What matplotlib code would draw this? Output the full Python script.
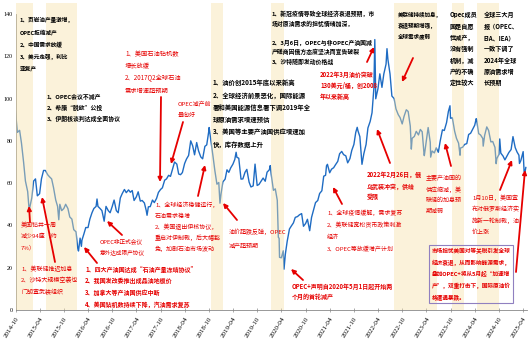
import matplotlib
matplotlib.use('Agg')
import pandas as pd
import matplotlib.pyplot as plt
from matplotlib.patches import Rectangle, FancyArrowPatch

plt.rcParams['font.family'] = ['Noto Sans CJK SC', 'DejaVu Sans']

# Brent price, read on the 1st and 15th of each month
p2014 = [94, 84, 85, 79, 70, 61]  # from Oct
p2015 = [56, 48, 53, 61, 62, 54, 55, 62, 66, 66, 64, 63,
         62, 58, 52, 49, 50, 47, 48, 50, 48, 44, 43, 38]
p2016 = [37, 29, 34, 33, 36, 39, 39, 43, 46, 48, 49, 49,
         48, 47, 42, 49, 47, 46, 49, 52, 47, 46, 53, 55]
p2017 = [57, 55.5, 56.8, 55.7, 56.5, 51.8, 53.5, 55.9, 51.5, 51.8, 50.6, 47,
         48.8, 48.9, 52, 50.8, 52.8, 55.6, 57, 57.8, 61.4, 62, 63.7, 63.2]
p2018 = [66.9, 70, 69, 64.3, 64, 65, 69.3, 71.4, 73.1, 79, 77.6, 73.4,
         79.2, 75.3, 72.4, 71.5, 77.4, 78.1, 84.8, 80.8, 72.9, 66.1, 59.5, 60.3]
p2019 = [54.9, 60.6, 61.9, 66.3, 65.1, 67.2, 69, 71.2, 72.2, 71.8, 61.9, 62,
         65.1, 66.5, 60.5, 58.2, 58.7, 69, 58.9, 59.4, 61, 62.4, 60.9, 65.2]
p2020 = [66.3, 64.2, 56.6, 57.3, 51.9, 33.9, 24.7, 28, 26.4, 32.5, 38.3, 39.7,
         41.2, 43.8, 44.2, 45, 45.6, 39.6, 40.9, 42.9, 37.5, 43.8, 47.6, 50.8]
p2021 = [51.8, 55.1, 56.4, 63.3, 63.7, 68.9, 64.9, 66.6, 67.3, 68.7, 70.3, 73.9,
         75, 73.5, 72.9, 69.6, 71.6, 75.5, 78.3, 84, 84.7, 82, 68.9, 73.9]
p2022 = [78.3, 86.1, 89.2, 93.3, 104.9, 99.9, 104.7, 111.7, 105.3, 111.6, 116.3, 118.5,
         111.6, 101.2, 100, 95.1, 92.4, 91, 88, 91.6, 94.7, 93.9, 87, 81.2]
p2023 = [82.1, 84.5, 82.8, 85.4, 84.3, 73.7, 79.9, 86.3, 79.3, 75.2, 74.3, 76.7,
         74.6, 79.9, 85.2, 84.9, 88.6, 93.9, 90.7, 90.9, 84.6, 81.2, 78.9, 76.6]
p2024 = [77, 78.3, 78.7, 83, 83.6, 85.3, 87.4, 90.1, 83.4, 82.8, 81.1, 82.6,
         86.6, 84.9, 79.5, 79.7, 76.9, 71.6, 73.6, 74.2, 72.8, 71, 72.9, 74.5]
p2025 = [75.9, 82, 76.8, 74.7, 73.2, 70.6, 74.7, 64.9]

# turning points between the grid days
extra_dates = ['2015-01-13', '2015-08-24', '2016-01-20', '2016-02-11', '2016-06-08',
               '2017-06-21', '2018-05-17', '2018-10-03', '2018-12-24', '2019-04-25',
               '2020-01-08', '2020-03-09', '2020-03-18', '2020-04-21', '2021-03-08',
               '2021-10-26', '2022-03-08', '2022-06-08', '2022-12-09', '2023-03-17',
               '2023-05-04', '2023-09-27', '2023-12-12', '2024-04-12', '2024-06-04',
               '2024-09-10', '2024-10-07', '2025-03-05', '2025-04-02', '2025-04-09',
               '2025-04-22']
extra_vals = [46.6, 42.7, 27.9, 30.1, 52.5, 44.8, 80, 86.3, 50.5, 74.6,
              68.3, 34.4, 24.9, 19.3, 68.2, 86.4, 127.9, 123.6, 76.1, 73,
              72.3, 96.6, 73.2, 90.5, 77.5, 69.2, 80.9, 69.3, 74.9, 65.5, 67.4]

shade_start = ['2014-09-20', '2015-05-21', '2018-10-19', '2020-01-16',
               '2022-08-01', '2023-10-13', '2024-04-19']
shade_end = ['2015-02-14', '2016-01-12', '2019-01-18', '2020-04-22',
             '2023-06-22', '2024-01-13', '2024-10-04']

tick_dates = pd.date_range('2014-10-01', '2025-04-01', freq='6MS')
y_ticks = [0, 20, 40, 60, 80, 100, 120, 140]

# build the series
rows = []
for year, vals in [(2014, p2014), (2015, p2015), (2016, p2016), (2017, p2017),
                   (2018, p2018), (2019, p2019), (2020, p2020), (2021, p2021),
                   (2022, p2022), (2023, p2023), (2024, p2024), (2025, p2025)]:
    m0 = 10 if year == 2014 else 1
    for i, v in enumerate(vals):
        rows.append((pd.Timestamp(year, m0 + i // 2, 1 if i % 2 == 0 else 15), v))
for d, v in zip(extra_dates, extra_vals):
    rows.append((pd.Timestamp(d), v))
df = pd.DataFrame(rows, columns=['date', 'price']).sort_values('date')

W, H = 530, 354
fig = plt.figure(figsize=(W / 100, H / 100), dpi=100)
ax = fig.add_axes([15.5 / W, 44 / H, (527 - 15.5) / W, 307 / H])

ax.plot(df['date'], df['price'], color='#1f6cc3', lw=1.0, zorder=2)
for s, e in zip(shade_start, shade_end):
    ax.axvspan(pd.Timestamp(s), pd.Timestamp(e), color='#F7E2A8', alpha=0.42,
               lw=0, zorder=3)

ax.set_xlim(pd.Timestamp('2014-10-01'), pd.Timestamp('2025-05-01'))
ax.set_ylim(0, 145.2)
for sp in ['top', 'right']:
    ax.spines[sp].set_visible(False)
ax.spines['left'].set_bounds(0, 140)
for sp in ['left', 'bottom']:
    ax.spines[sp].set_color('#888888')
    ax.spines[sp].set_linewidth(0.6)

ax.set_yticks(y_ticks)
ax.set_yticklabels([str(v) for v in y_ticks], family='Liberation Serif', fontsize=4.3)
ax.set_xticks(tick_dates)
ax.set_xticklabels([d.strftime('%Y-%m') for d in tick_dates], family='Liberation Serif',
                   fontsize=5, rotation=58, ha='right', rotation_mode='anchor')
ax.tick_params(axis='y', length=0, pad=2)
ax.tick_params(axis='x', length=3, width=0.5, direction='inout', color='#888888', pad=3)


def note(x, ys, lines, color='black', bold=False, size=4.3):
    if isinstance(ys, tuple):
        ys = [ys[0] + i * ys[1] for i in range(len(lines))]
    for y, s in zip(ys, lines):
        fig.text(x / W, 1 - y / H, s, ha='left', va='center', fontsize=size,
                 color=color, fontweight='bold' if bold else 'normal', zorder=5)


def arrow(tail, head):
    fig.add_artist(FancyArrowPatch(
        (tail[0] / W, 1 - tail[1] / H), (head[0] / W, 1 - head[1] / H),
        transform=fig.transFigure, arrowstyle='-|>', mutation_scale=6,
        color='#e60000', lw=1.3, shrinkA=0, shrinkB=0, zorder=6))


RED = '#e60000'

# black notes
note(20, (20, 12.2), ['1、页岩油产量激增，', 'OPEC拒绝减产', '2、中国需求放缓',
                      '3、美元走强，利比', '亚复产'], bold=True, size=4.1)
note(47, (97, 11), ['1、OPEC会议不减产', '2、希腊“脱欧”公投', '3、伊朗核谈判达成全面协议'],
     bold=True, size=4.2)
note(213, (83, 12.2), ['1、油价创2015年底以来新高', '2、全球经济前景恶化，国际能源',
                       '署和美国能源信息署下调2019年全', '球原油需求增速预估',
                       '3、美国等主要产油国供应增速加', '快，库存数据上升'], bold=True, size=4.6)
note(272, [14, 24, 43, 52, 62], ['1、新冠疫情导致全球经济衰退预期，市',
                                 '场对原油需求的担忧情绪加深，',
                                 '2、3月6日，OPEC与非OPEC产油国减',
                                 '产磋商因俄方态度坚决而宣告破裂',
                                 '3、沙特随即发动价格战'], bold=True, size=4.2)
note(398, (15, 10.5), ['美联储持续加息，', '衰退预期增强，', '全球需求疲弱'],
     bold=True, size=4.0)
note(450, (15, 11.3), ['Opec成员', '国是自愿', '性减产，', '没有强制', '机制，减',
                       '产的不确', '定性较大'], bold=True, size=4.4)
note(484, (15, 11.3), ['全球三大月', '报（OPEC、', 'EIA、IEA）', '一致下调了',
                       '2024年全球', '原油需求增', '长预期'], bold=True, size=4.4)

# red notes
note(125, (54, 12.3), ['1、美国石油钻机数', '增长放缓', '2、2017Q2全球石油', '需求增速超预期'],
     color=RED, size=4.5)
note(178, (103, 12), ['OPEC减产前', '景向好'], color=RED, size=4.3)
note(21, (225, 11.5), ['美国钻井一周', '减少94座（约', '7%）'], color=RED)
note(21, (269, 11.5), ['1、美联储推迟加息', '2、沙特大规模空袭也', '门胡塞武装组织'], color=RED)
note(100, (241, 11), ['OPEC非正式会议', '意外达成限产协议'], color=RED, size=4.1)
note(155, (205, 11), ['1、全球经济稳健运行，', '石油需求稳增', '2、美国退出伊核协议，',
                      '重启对伊制裁，后大幅豁', '免，加剧石油市场波动'], color=RED)
note(229, (232, 13), ['油价超跌反弹，OPEC', '减产超预期'], color=RED)
note(327, (213, 12), ['1、全球疫情缓解，需求复苏', '2、美联储宽松货币政策刺激',
                      '经济', '3、OPEC等放缓增产计划'], color=RED)
note(426, (178, 11.3), ['主要产油国的', '供应缩减，美', '联储的加息预', '期减弱'], color=RED)
note(472, (198, 11.3), ['1月10日，美国宣', '布对俄罗斯经济实', '施新一轮制裁，油', '价上涨'],
     color=RED)

# red bold notes
note(85, (269, 11.7), ['1、四大产油国达成“石油产量冻结协议”', '2、我国发改委推出成品油地板价',
                       '3、加拿大等产油国供应中断', '4、美国钻机数持续下降，汽油需求复苏'],
     color=RED, bold=True)
note(320, (75, 10.5), ['2022年3月油价突破', '130美元/桶，创2008', '年以来新高'],
     color=RED, bold=True)
note(367, (175, 11), ['2022年2月26日，俄', '乌武装冲突，供给', '受限'], color=RED, bold=True)
note(292, (286, 11), ['OPEC+声明自2020年5月1日起开始两', '个月的首轮减产'], color=RED, bold=True)
note(432, (251, 11.5), ['市场担忧美国对等关税引发全球', '经济衰退，从而影响能源需求，',
                        '叠加OPEC+将从5月起“加速增', '产”，双重打击下，国际原油价',
                        '格遭遇暴跌。'], color=RED, bold=True, size=4.1)
fig.add_artist(Rectangle((429 / W, 1 - 303 / H), 84 / W, 58 / H, transform=fig.transFigure,
                         fill=False, edgecolor='#9080c0', lw=0.8, zorder=6))

# arrows: tail -> head, figure pixels from the top
arrow((30, 222), (29, 206))
arrow((55, 262), (42, 197))
arrow((97, 263), (84, 247))
arrow((122, 235), (107, 221))
arrow((161, 97), (160, 182))
arrow((183, 122), (171, 164))
arrow((198, 196), (205, 165))
arrow((237, 220), (223, 203))
arrow((303, 280), (291, 269))
arrow((342, 204), (333, 187))
arrow((367, 62), (374, 47))
arrow((390, 163), (377, 129))
arrow((413, 58), (402, 82))
arrow((451, 166), (445, 143))
arrow((500, 190), (512, 160))
arrow((516, 272), (525, 170))

fig.savefig('out.png', dpi=100)
